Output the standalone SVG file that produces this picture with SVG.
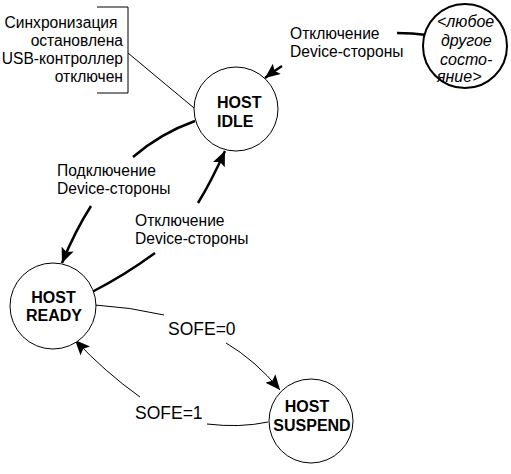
<svg xmlns="http://www.w3.org/2000/svg" width="511" height="474" viewBox="0 0 511 474">
<style>
.bg{fill:#fff}
.node{fill:#fff;stroke:#000;stroke-width:1}
.nodeB{fill:#fff;stroke:#000;stroke-width:2}
.nl{font-family:"Liberation Sans",Arial,sans-serif;font-weight:bold;font-size:16px;fill:#000}
.it{font-family:"Liberation Sans",Arial,sans-serif;font-style:italic;font-size:16px;fill:#000}
.lb{font-family:"Liberation Sans",Arial,sans-serif;font-size:15.6px;fill:#000}
.sf{font-family:"Liberation Sans",Arial,sans-serif;font-size:17.5px;fill:#000}
.thick{fill:none;stroke:#000;stroke-width:2.5}
.thin{fill:none;stroke:#000;stroke-width:1}
</style>
<defs>
<marker id="ah" markerUnits="userSpaceOnUse" markerWidth="15" markerHeight="13" viewBox="0 0 15 13" refX="15" refY="6.5" orient="auto">
<path d="M0,0 L15,6.5 L0,13 L3,6.5 z" fill="#000"/>
</marker>
</defs>
<rect class="bg" x="0" y="0" width="511" height="474"/>

<g id="connectors">
<path class="thick" d="M427,35 Q412,33 397,33"/>
<path class="thick" d="M282,66 Q274,71 265,78" marker-end="url(#ah)"/>
<path class="thick" d="M195,121 Q161,133 133,157"/>
<path class="thick" d="M91,206 Q75,231 62,263" marker-end="url(#ah)"/>
<path class="thick" d="M92,292 Q125,275 155,253"/>
<path class="thick" d="M198,203 Q211,182 225,151" marker-end="url(#ah)"/>
<path class="thin" d="M95,305 Q130,307 164,315"/>
<path class="thin" d="M226,343 Q255,360 280,390" marker-end="url(#ah)"/>
<path class="thin" d="M268,422 Q240,428 207,424"/>
<path class="thin" d="M140,397 Q105,372 75,340" marker-end="url(#ah)"/>
<path class="thin" d="M97,7 H128 V93 H97"/>
<path class="thin" d="M128,53 L194,108"/>
</g>

<g id="note">
<text class="lb" text-anchor="end" x="117.5" y="28">Синхронизация</text>
<text class="lb" text-anchor="end" x="123" y="46">остановлена</text>
<text class="lb" text-anchor="end" x="123" y="64">USB-контроллер</text>
<text class="lb" text-anchor="end" x="123" y="82">отключен</text>
</g>

<g id="labels">
<text class="lb" x="290" y="39">Отключение</text>
<text class="lb" x="290" y="57">Device-стороны</text>
<text class="lb" x="57" y="176">Подключение</text>
<text class="lb" x="57" y="194">Device-стороны</text>
<text class="lb" x="135" y="226">Отключение</text>
<text class="lb" x="135" y="244">Device-стороны</text>
<text class="sf" x="168" y="335">SOFE=0</text>
<text class="sf" x="135" y="419">SOFE=1</text>
</g>

<g id="any-state">
<circle class="nodeB" cx="465" cy="46" r="42"/>
<text class="it" x="437" y="27">&lt;любое</text>
<text class="it" x="441" y="46">другое</text>
<text class="it" x="440" y="65">состо-</text>
<text class="it" x="437" y="82">яние&gt;</text>
</g>

<g id="host-idle">
<circle class="node" cx="236" cy="109" r="42"/>
<text class="nl" x="217" y="108">HOST</text>
<text class="nl" x="217" y="127">IDLE</text>
</g>

<g id="host-ready">
<circle class="node" cx="53" cy="306" r="43"/>
<text class="nl" text-anchor="middle" x="53.5" y="303">HOST</text>
<text class="nl" text-anchor="middle" x="54" y="321">READY</text>
</g>

<g id="host-suspend">
<circle class="node" cx="311" cy="421" r="42"/>
<text class="nl" text-anchor="middle" x="307" y="412">HOST</text>
<text class="nl" text-anchor="middle" x="312" y="431">SUSPEND</text>
</g>
</svg>
